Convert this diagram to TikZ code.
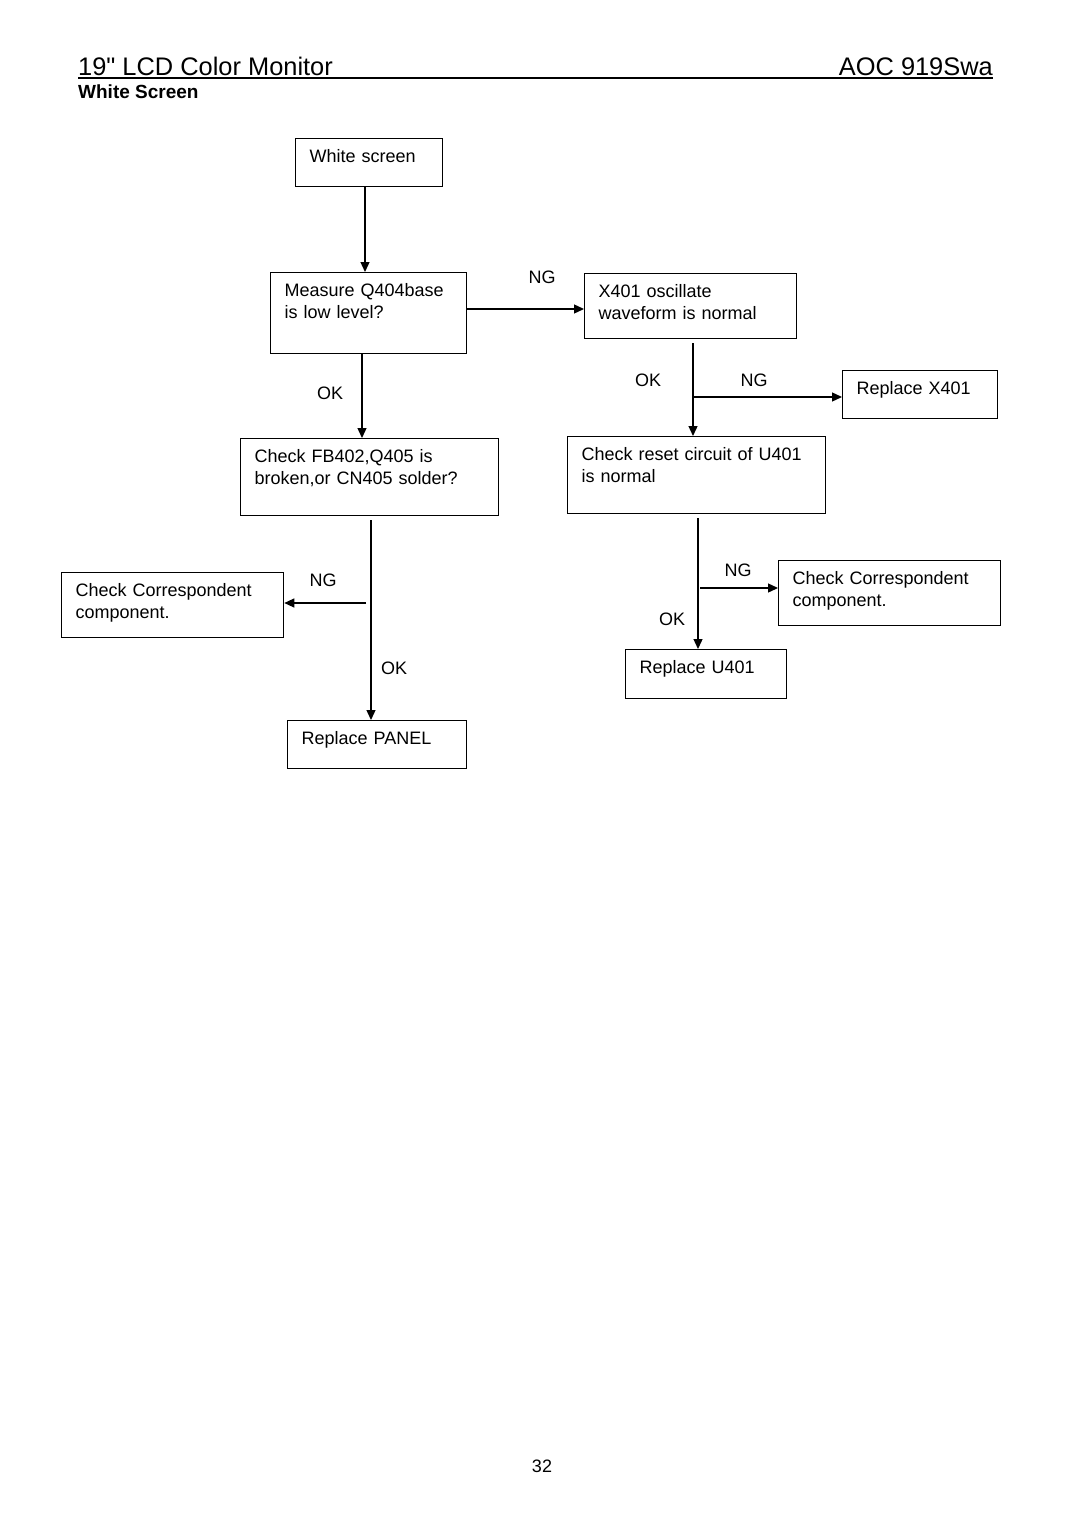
\documentclass[tikz,border=0pt]{standalone}
\usepackage{fontspec}
\setmainfont{Liberation Sans}
\usetikzlibrary{arrows.meta}

\tikzset{
	arr/.style={line width=1.3pt,-{Triangle[length=10pt,width=9pt]}},
	tag/.style={font=\fontsize{18}{21.5}\selectfont}
}

\begin{document}
\begin{tikzpicture}[x=1pt,y=-1pt]
	\useasboundingbox (0,0) rectangle (1080,1528);

	\node[anchor=base west,inner sep=0pt,font=\fontsize{25.4}{30}\selectfont] (title) at (78,75) {19\textquotedbl{} LCD Color Monitor};
	\node[anchor=base east,inner sep=0pt,font=\fontsize{25.4}{30}\selectfont] (model) at (993,75) {AOC 919Swa};
	\draw[line width=1.5pt] (78,78) -- (993,78);
	\draw[line width=2.4pt] (210,78) -- (508,78);
	\node[anchor=base west,inner sep=0pt,font=\bfseries\fontsize{19}{23}\selectfont] (head) at (78,99) {White Screen};

	\begin{scope}[every node/.style={draw,line width=1.3pt,anchor=north west,align=left,inner xsep=14pt,inner ysep=9pt,text height=15pt,font=\fontsize{18}{21.5}\selectfont}]
		\node[text width=119pt,text depth=15pt] (white) at (295,138) {White screen};
		\node[text width=168pt,text depth=48pt] (meas) at (270,272) {Measure Q404base\\is low level?};
		\node[text width=184pt,text depth=32pt] (xosc) at (584,273) {X401 oscillate\\waveform is normal};
		\node[text width=127pt,text depth=15pt] (repx) at (842,370) {Replace X401};
		\node[text width=230pt,text depth=44pt] (chkfb) at (240,438) {Check FB402,Q405 is\\broken,or CN405 solder?};
		\node[text width=230pt,text depth=44pt] (chkrst) at (567,436) {Check reset circuit of U401\\is normal};
		\node[text width=194pt,text depth=32pt] (corrl) at (61,572) {Check Correspondent\\component.};
		\node[text width=194pt,text depth=32pt] (corrr) at (778,560) {Check Correspondent\\component.};
		\node[text width=133pt,text depth=16pt] (repu) at (625,649) {Replace U401};
		\node[text width=151pt,text depth=15pt] (reppan) at (287,720) {Replace PANEL};
	\end{scope}

	\begin{scope}[every node/.style={tag}]
		\node (ng1) at (542,277) {NG};
		\node (ok1) at (330,393) {OK};
		\node (ok2) at (648,380) {OK};
		\node (ng2) at (754,380) {NG};
		\node (ng3) at (323,580) {NG};
		\node (ok3) at (394,668) {OK};
		\node (ng4) at (738,570) {NG};
		\node (ok4) at (672,619) {OK};
		\node (page) at (542,1466) {32};
	\end{scope}

	\coordinate (bx) at (693,397);
	\coordinate (bl) at (366,603);
	\coordinate (br) at (700,588);

	\begin{scope}
		\path (365,0 |- white.south) edge[arr] (365,0 |- meas.north);
		\path (meas.east |- 0,309) edge[arr] (xosc.west |- 0,309);
		\path (362,0 |- meas.south) edge[arr] (362,0 |- chkfb.north);
		\path (693,0 |- xosc.south) edge[arr,shorten <=4pt] (693,0 |- chkrst.north);
		\path (bx) edge[arr] (repx.west |- bx);
		\path (371,0 |- chkfb.south) edge[arr,shorten <=4pt] (371,0 |- reppan.north);
		\path (bl) edge[arr] (corrl.east |- bl);
		\path (698,0 |- chkrst.south) edge[arr,shorten <=4pt] (698,0 |- repu.north);
		\path (br) edge[arr] (corrr.west |- br);
	\end{scope}
\end{tikzpicture}
\end{document}
